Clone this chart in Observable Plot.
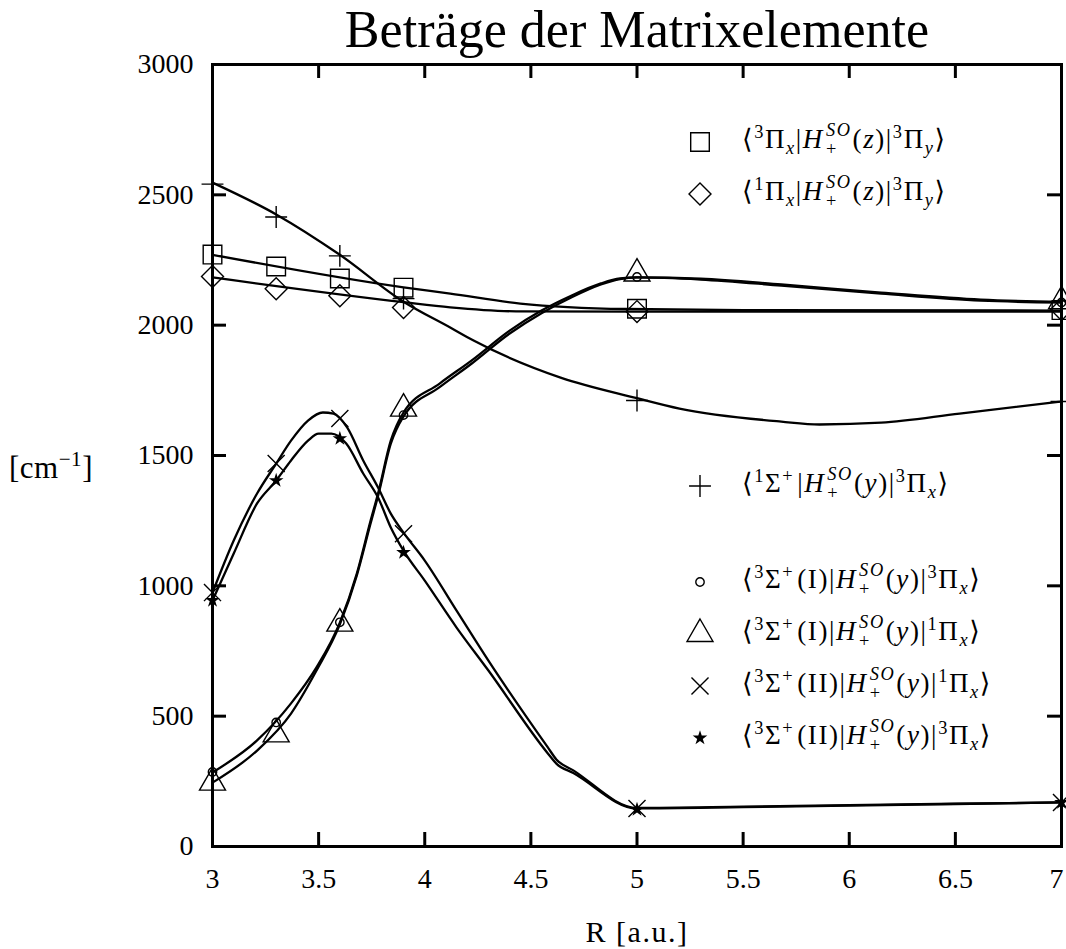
<!DOCTYPE html>
<html>
<head>
<meta charset="utf-8">
<script src="https://cdn.jsdelivr.net/npm/d3@7"></script>
<script src="https://cdn.jsdelivr.net/npm/@observablehq/plot@0.6"></script>
<style>
  body { margin: 0; background: #fff; }
  #wrap { position: relative; width: 1066px; height: 949px; font-family: "Liberation Serif", "DejaVu Serif", serif; color: #000; overflow: hidden; }
  #chart { position: absolute; left: 0; top: 0; }
  .title { position: absolute; left: 317px; width: 640px; top: 3px; text-align: center; font-size: 53px; line-height: 53px; transform: scaleX(0.983); transform-origin: 320px 26px; white-space: nowrap; }
  .ylab { position: absolute; left: 9px; top: 446px; font-size: 31px; line-height: 44px; letter-spacing: 0.5px; }
  .xlab { position: absolute; left: 537px; width: 200px; top: 910px; text-align: center; font-size: 30px; line-height: 44px; letter-spacing: 1.5px; }
  .lg { position: absolute; left: 680px; height: 44px; display: flex; align-items: center; white-space: nowrap; font-size: 27px; letter-spacing: 1.6px; }
  .lg svg { width: 40px; height: 44px; margin-right: 22px; flex: none; }
  sup { font-size: 0.68em; vertical-align: 0.55em; line-height: 0; }
  sub { font-size: 0.68em; vertical-align: -0.3em; line-height: 0; }
  .pl { margin-right: 3px; }
  .st { display: inline-flex; flex-direction: column; vertical-align: middle; font-size: 0.68em; line-height: 1.05; margin: 0 1px 0 2px; position: relative; top: -0.1em; }
</style>
</head>
<body>
<div id="wrap">
  <div id="chart"></div>
  <div class="title">Beträge der Matrixelemente</div>
  <div class="ylab">[cm<sup>−1</sup>]</div>
  <div class="xlab">R [a.u.]</div>
</div>
<script>
// ---------- data ----------
const R = [3, 3.3, 3.6, 3.9, 5, 7];                 // marker positions (a.u.)
const sqVals = [2271, 2225, 2179, 2144, 2063, 2058]; // <3Πx|H(z)|3Πy>
const diVals = [2187, 2140, 2113, 2068, 2052, 2060]; // <1Πx|H(z)|3Πy>
const plVals = [2541, 2415, 2266, 2102, 1711, 1707]; // <1Σ+|H(y)|3Πx>
const ciVals = [286, 476, 860, 1655, 2185, 2087];    // <3Σ+(I)|H(y)|3Πx>
const trVals = [245, 430, 855, 1680, 2198, 2092];    // <3Σ+(I)|H(y)|1Πx>
const crVals = [974, 1469, 1642, 1200, 146, 169];    // <3Σ+(II)|H(y)|1Πx>
const stVals = [944, 1404, 1565, 1128, 142, 169];    // <3Σ+(II)|H(y)|3Πx>

// fitted curves as drawn
const sqLineR = [3, 3.9, 4.12, 4.45, 4.95, 5.5, 7];
const sqLineV = [2270, 2145, 2121, 2083, 2062, 2058, 2056];
const diLineR = [3, 3.9, 4.12, 4.43, 5, 7];
const diLineV = [2183, 2088, 2068, 2053, 2052, 2052];
const plLineR = [3, 3.3, 3.6, 3.9, 4.12, 4.23, 4.64, 5, 5.2, 5.68, 5.86, 6.15, 6.52, 7];
const plLineV = [2547, 2425, 2270, 2090, 1991, 1941, 1799, 1720, 1680, 1630, 1619, 1626, 1661, 1707];
const ciLineR = [3, 3.21, 3.37, 3.49, 3.6, 3.68, 3.745, 3.78, 3.84, 3.9, 4.07, 4.22, 4.4, 4.55, 4.69, 4.83, 4.92, 5, 5.3, 5.68, 6.15, 6.62, 7];
const ciLineV = [284, 407, 549, 687, 859, 1047, 1250, 1354, 1557, 1665, 1776, 1864, 1979, 2056, 2113, 2160, 2179, 2183, 2175, 2152, 2121, 2094, 2087];
const trLineR = ciLineR;
const trLineV = [245, 368, 510, 675, 852, 1040, 1240, 1345, 1545, 1650, 1762, 1852, 1968, 2046, 2106, 2156, 2177, 2183, 2178, 2156, 2125, 2098, 2090];
const crLineR = [3, 3.1, 3.21, 3.3, 3.37, 3.45, 3.52, 3.57, 3.635, 3.71, 3.78, 3.84, 3.9, 4.0, 4.15, 4.3, 4.58, 4.62, 4.7, 5, 5.5, 6, 6.5, 7];
const crLineV = [974, 1174, 1354, 1469, 1557, 1634, 1665, 1661, 1607, 1481, 1377, 1277, 1204, 1097, 905, 713, 380, 334, 292, 148, 153, 159, 164, 169];
const stLineR = [3, 3.1, 3.21, 3.3, 3.37, 3.45, 3.5, 3.56, 3.63, 3.71, 3.78, 3.84, 3.9, 4.0, 4.15, 4.3, 4.58, 4.62, 4.7, 5, 5.5, 6, 6.5, 7];
const stLineV = [944, 1124, 1316, 1404, 1481, 1557, 1584, 1584, 1546, 1431, 1339, 1224, 1135, 1020, 840, 675, 357, 318, 282, 146, 151, 157, 163, 169];

const xTicks = [3, 3.5, 4, 4.5, 5, 5.5, 6, 6.5, 7];
const yTicks = [0, 500, 1000, 1500, 2000, 2500, 3000];

const seriesNames = ["sq", "di", "pl", "ci", "tr", "cr", "st"];
const legendLabels = [
  '⟨<sup>3</sup>Π<sub><i>x</i></sub>|<i>H</i>STK(<i>z</i>)|<sup>3</sup>Π<sub><i>y</i></sub>⟩',
  '⟨<sup>1</sup>Π<sub><i>x</i></sub>|<i>H</i>STK(<i>z</i>)|<sup>3</sup>Π<sub><i>y</i></sub>⟩',
  '⟨<sup>1</sup>Σ<sup class="pl">+</sup>|<i>H</i>STK(<i>y</i>)|<sup>3</sup>Π<sub><i>x</i></sub>⟩',
  '⟨<sup>3</sup>Σ<sup class="pl">+</sup>(I)|<i>H</i>STK(<i>y</i>)|<sup>3</sup>Π<sub><i>x</i></sub>⟩',
  '⟨<sup>3</sup>Σ<sup class="pl">+</sup>(I)|<i>H</i>STK(<i>y</i>)|<sup>1</sup>Π<sub><i>x</i></sub>⟩',
  '⟨<sup>3</sup>Σ<sup class="pl">+</sup>(II)|<i>H</i>STK(<i>y</i>)|<sup>1</sup>Π<sub><i>x</i></sub>⟩',
  '⟨<sup>3</sup>Σ<sup class="pl">+</sup>(II)|<i>H</i>STK(<i>y</i>)|<sup>3</sup>Π<sub><i>x</i></sub>⟩'
];
const legendTop = [142, 194, 486, 582, 634, 686, 738];

// ---------- build tables ----------
const markerVals = [sqVals, diVals, plVals, ciVals, trVals, crVals, stVals];
const lineR = [sqLineR, diLineR, plLineR, ciLineR, trLineR, crLineR, stLineR];
const lineV = [sqLineV, diLineV, plLineV, ciLineV, trLineV, crLineV, stLineV];
const symbolOf = {sq: "square", di: "diamond2", pl: "plus", ci: "circle", tr: "triangle2", cr: "times", st: "star"};
const rOf = {sq: 10.5, di: 9.9, pl: 7.1, ci: 4.2, tr: 12.4, cr: 7.8, st: 4.6};
const d3Sym = {square: d3.symbolSquare, diamond2: d3.symbolDiamond2, plus: d3.symbolPlus, circle: d3.symbolCircle, triangle2: d3.symbolTriangle2, times: d3.symbolTimes, star: d3.symbolStar};

const lines = [];
seriesNames.forEach((s, i) => lineR[i].forEach((r, j) => lines.push({s, R: r, V: lineV[i][j]})));
const markers = seriesNames.map((s, i) => R.map((r, j) => ({s, R: r, V: markerVals[i][j]})));

const W = 1066, H = 949, mL = 212, mR = 5, mT = 64, mB = 103;
const plotW = W - mL - mR, plotH = H - mT - mB, tick = 14;

const chart = Plot.plot({
  width: W, height: H,
  marginLeft: mL, marginRight: mR, marginTop: mT, marginBottom: mB,
  x: {domain: [3, 7]},
  y: {domain: [0, 3000]},
  style: {fontFamily: '"Liberation Serif", "DejaVu Serif", serif', fontSize: "28px", color: "#000", background: "#fff"},
  marks: [
    Plot.axisX({ticks: xTicks.slice(0, -1), tickSize: 0, tickPadding: 22, tickFormat: d => String(d), label: null, fontSize: 28}),
    Plot.axisX({ticks: xTicks.slice(-1), tickSize: 0, tickPadding: 22, tickFormat: d => String(d), label: null, fontSize: 28, dx: -5}),
    Plot.axisY({ticks: yTicks, tickSize: 0, tickPadding: 19, tickFormat: d => String(d), label: null, fontSize: 28}),
    Plot.tickX(xTicks, {x: d => d, insetTop: plotH - tick, stroke: "#000", strokeWidth: 3}),
    Plot.tickX(xTicks, {x: d => d, insetBottom: plotH - tick, stroke: "#000", strokeWidth: 3}),
    Plot.tickY(yTicks, {y: d => d, insetRight: plotW - tick, stroke: "#000", strokeWidth: 3}),
    Plot.tickY(yTicks, {y: d => d, insetLeft: plotW - tick, stroke: "#000", strokeWidth: 3}),
    Plot.line(lines, {x: "R", y: "V", z: "s", curve: "monotone-x", stroke: "#000", strokeWidth: 2.3}),
    ...markers.map((data, i) => {
      const s = seriesNames[i];
      return Plot.dot(data, {
        x: "R", y: "V", symbol: () => symbolOf[s], r: rOf[s],
        stroke: s === "st" ? "none" : "#000", fill: s === "st" ? "#000" : "none", strokeWidth: 1.4
      });
    }),
    Plot.frame({stroke: "#000", strokeWidth: 3})
  ]
});
document.getElementById("chart").appendChild(chart);

// ---------- legend ----------
const wrap = document.getElementById("wrap");
const stk = '<span class="st"><i>SO</i><span>+</span></span>';
seriesNames.forEach((s, i) => {
  const row = document.createElement("div");
  row.className = "lg";
  row.style.top = (legendTop[i] - 22) + "px";
  const r = rOf[s];
  const path = d3.symbol(d3Sym[symbolOf[s]], Math.PI * r * r)();
  const fill = s === "st" ? "#000" : "none";
  const stroke = s === "st" ? "none" : "#000";
  row.innerHTML = `<svg viewBox="-20 -22 40 44"><path d="${path}" fill="${fill}" stroke="${stroke}" stroke-width="1.4"/></svg>` +
    `<span>${legendLabels[i].replace("STK", stk)}</span>`;
  wrap.appendChild(row);
});
</script>
</body>
</html>
